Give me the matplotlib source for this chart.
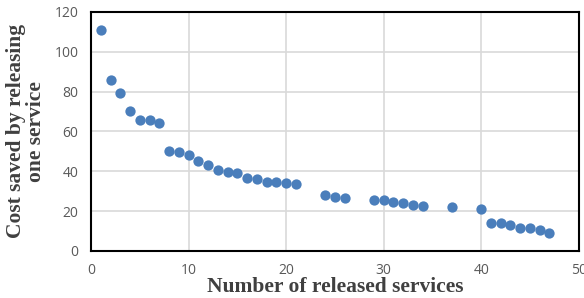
import numpy as np
import matplotlib.pyplot as plt

# number of released services vs cost saved
released = [1, 2, 3, 4, 5, 6, 7, 8, 9, 10, 11, 12, 13, 14, 15, 16, 17, 18, 19, 20, 21,
            24, 25, 26, 29, 30, 31, 32, 33, 34, 37, 40, 41, 42, 43, 44, 45, 46, 47]
cost_saved = [111, 85.6, 79.1, 70.3, 65.8, 65.6, 64.4, 50.1, 49.5, 48.2, 45, 43.3, 40.8,
              39.8, 39.3, 36.7, 36, 34.7, 34.7, 34, 33.5,
              28.3, 26.9, 26.6, 25.6, 25.4, 24.4, 24.2, 22.9, 22.7, 22.2, 21.2,
              14.2, 13.9, 13.2, 11.7, 11.4, 10.7, 9.1]

x_ticks = [0, 10, 20, 30, 40, 50]
y_ticks = [0, 20, 40, 60, 80, 100, 120]

fig = plt.figure(figsize=(5.84, 2.98), dpi=100)
ax = fig.add_axes([0.156, 0.158, 0.835, 0.802])

ax.scatter(released, cost_saved, s=55, color='#4a7ebb', zorder=3, linewidths=0)

ax.set_xlim(0, 50)
ax.set_ylim(0, 120)
ax.set_xticks(x_ticks)
ax.set_yticks(y_ticks)
ax.grid(True, color='#d9d9d9', linewidth=1.2)
ax.set_axisbelow(True)
ax.tick_params(length=0, labelsize=10, labelcolor='#595959', pad=9)
for lbl in ax.get_xticklabels() + ax.get_yticklabels():
    lbl.set_family('Open Sans')
for sp in ax.spines.values():
    sp.set_color('black')
    sp.set_linewidth(1.5)

ax.set_xlabel('Number of released services', fontfamily='Liberation Serif',
              fontweight='bold', fontsize=15.5, color='#404040', labelpad=-1)
ax.set_ylabel('Cost saved by releasing\none service', fontfamily='Liberation Serif',
              fontweight='bold', fontsize=15.5, color='#404040', labelpad=6,
              linespacing=1.05)

fig.savefig('out.png', dpi=100)
